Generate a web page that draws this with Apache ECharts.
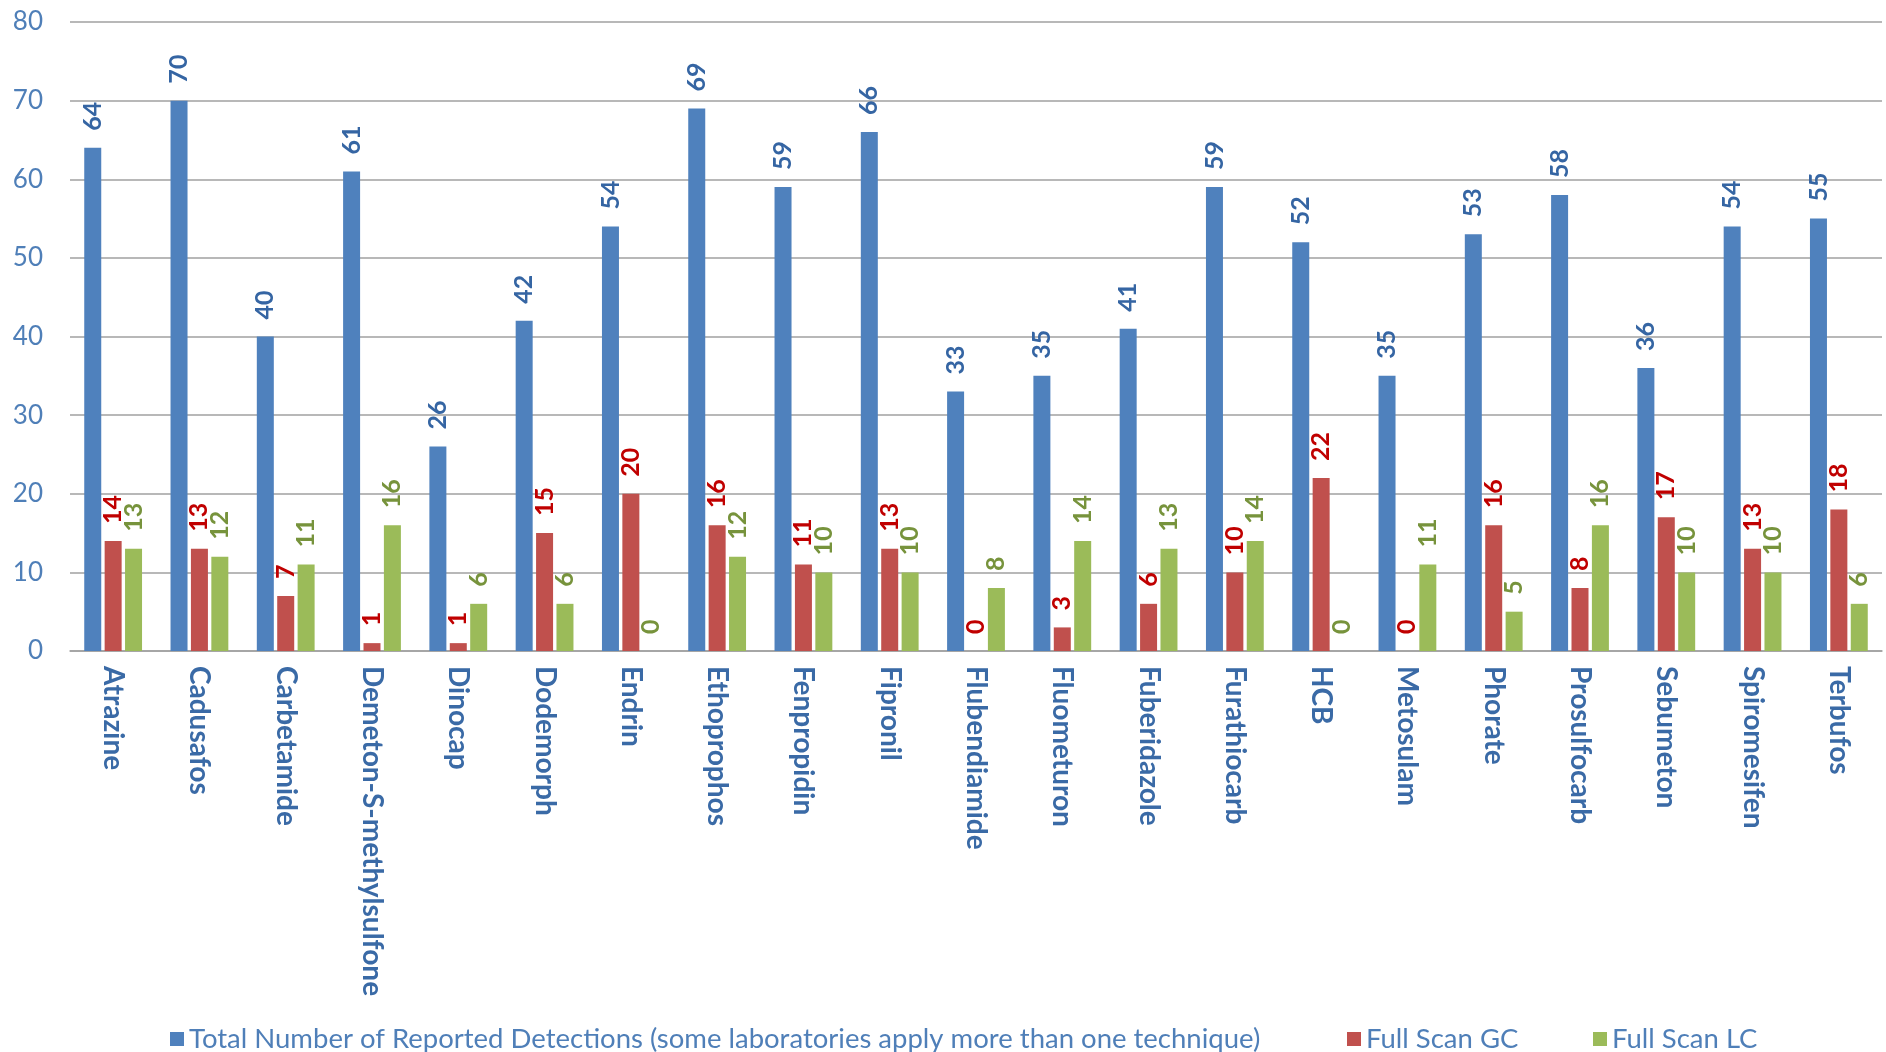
<!DOCTYPE html>
<html>
<head>
<meta charset="utf-8">
<script src="https://cdn.jsdelivr.net/npm/echarts@6/dist/echarts.min.js"></script>
<style>
  html, body { margin: 0; padding: 0; background: #fff; }
  #chart { width: 1886px; height: 1052px; }
</style>
</head>
<body>
<div id="chart"></div>
<script>
const categories = ['Atrazine', 'Cadusafos', 'Carbetamide', 'Demeton-S-methylsulfone', 'Dinocap', 'Dodemorph',
  'Endrin', 'Ethoprophos', 'Fenpropidin', 'Fipronil', 'Flubendiamide', 'Fluometuron', 'Fuberidazole',
  'Furathiocarb', 'HCB', 'Metosulam', 'Phorate', 'Prosulfocarb', 'Sebumeton', 'Spiromesifen', 'Terbufos'];
const totalDetections = [64, 70, 40, 61, 26, 42, 54, 69, 59, 66, 33, 35, 41, 59, 52, 35, 53, 58, 36, 54, 55];
const fullScanGC = [14, 13, 7, 1, 1, 15, 20, 16, 11, 13, 0, 3, 6, 10, 22, 0, 16, 8, 17, 13, 18];
const fullScanLC = [13, 12, 11, 16, 6, 6, 0, 12, 10, 10, 8, 14, 13, 14, 0, 11, 5, 16, 10, 10, 6];
const seriesNames = [
  'Total Number of Reported Detections (some laboratories apply more than one technique)',
  'Full Scan GC',
  'Full Scan LC'
];

const font = 'Lato, "Open Sans", sans-serif';

function barLabel(color) {
  return {
    show: true,
    position: 'top',
    rotate: 90,
    align: 'left',
    verticalAlign: 'middle',
    distance: 17,
    color: color,
    fontSize: 25,
    fontWeight: 'bold',
    fontFamily: font
  };
}

function legendAt(left, name) {
  return {
    left: left,
    top: 1020,
    data: [name],
    icon: 'rect',
    itemWidth: 14,
    itemHeight: 14,
    textStyle: { color: '#4f7fb8', fontSize: 27.5, fontFamily: font }
  };
}

const chart = echarts.init(document.getElementById('chart'));
chart.setOption({
  animation: false,
  grid: { left: 70, right: 4, top: 22, bottom: 401 },
  legend: [
    legendAt(165, seriesNames[0]),
    legendAt(1342, seriesNames[1]),
    legendAt(1588, seriesNames[2])
  ],
  xAxis: {
    type: 'category',
    data: categories,
    axisTick: { show: false },
    axisLine: { lineStyle: { color: '#a0a0a0', width: 1.5 } },
    axisLabel: {
      rotate: -90,
      interval: 0,
      margin: 15,
      color: '#3a6aa6',
      fontSize: 28,
      fontWeight: 'bold',
      fontFamily: font
    }
  },
  yAxis: {
    type: 'value',
    min: 0,
    max: 80,
    interval: 10,
    axisLine: { show: false },
    axisTick: { show: false },
    axisLabel: { color: '#4f7fb8', fontSize: 26, fontFamily: font, margin: 27 },
    splitLine: { lineStyle: { color: '#a0a0a0', width: 1.5 } }
  },
  series: [
    {
      name: seriesNames[0],
      type: 'bar',
      data: totalDetections,
      barWidth: 17,
      barGap: '20%',
      itemStyle: { color: '#4f81bd' },
      label: barLabel('#3565a3')
    },
    {
      name: seriesNames[1],
      type: 'bar',
      data: fullScanGC,
      barWidth: 17,
      barGap: '20%',
      itemStyle: { color: '#c0504d' },
      label: barLabel('#c00000')
    },
    {
      name: seriesNames[2],
      type: 'bar',
      data: fullScanLC,
      barWidth: 17,
      barGap: '20%',
      itemStyle: { color: '#9bbb59' },
      label: barLabel('#77933c')
    }
  ]
});
</script>
</body>
</html>
